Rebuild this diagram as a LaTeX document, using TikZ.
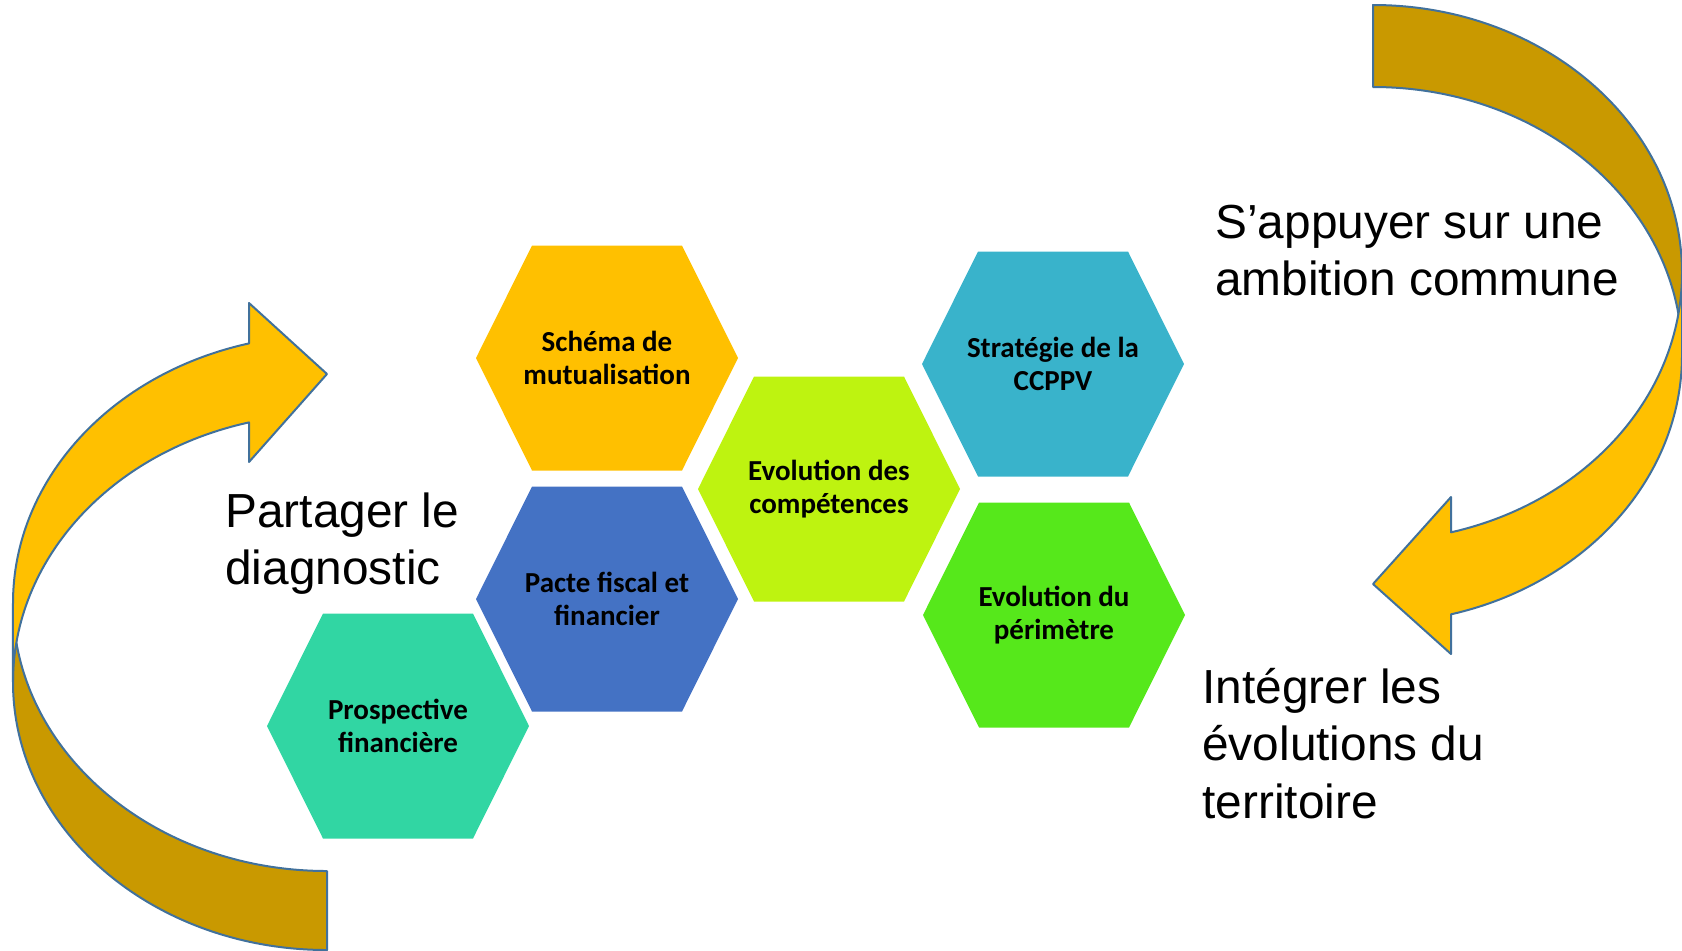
\documentclass[tikz,border=0pt]{standalone}
\usepackage{fontspec}
\setmainfont{Liberation Sans}
\newfontfamily\hexfont{Carlito}

\definecolor{jaune}{RGB}{255,192,0}
\definecolor{ocre}{RGB}{201,153,0}
\definecolor{contour}{RGB}{65,113,156}
\definecolor{vertlime}{RGB}{190,243,16}
\definecolor{bleu}{RGB}{68,114,196}
\definecolor{turquoise}{RGB}{49,214,163}
\definecolor{bleuciel}{RGB}{57,179,203}
\definecolor{vertvif}{RGB}{86,232,27}

\tikzset{
	hexa/.style={font=\hexfont\bfseries\fontsize{14.5}{16.4}\selectfont, align=center, inner sep=0pt},
	titre/.style={font=\fontsize{23.9}{28.75}\selectfont, align=left, anchor=base west, inner sep=0pt},
	fleche/.style={draw=contour, line width=1pt, line join=round}
}

% alveole : nom, x, y, couleur, texte
\newcommand{\alveole}[5]{
	\fill[#4] ({#2-131},#3) -- ({#2-75},{#3-112.5}) -- ({#2+75},{#3-112.5})
		-- ({#2+131},#3) -- ({#2+75},{#3+112.5}) -- ({#2-75},{#3+112.5}) -- cycle;
	\node[hexa] (#1) at (#2,#3) {#5};
}

\begin{document}
\begin{tikzpicture}[x=0.5pt, y=-0.5pt]
		
			\useasboundingbox (0,0) rectangle (1682,950);
			
			% fleche de gauche
			\filldraw[fleche, fill=ocre] (13,603) arc[start angle=180, end angle=90, x radius=314, y radius=268]
				-- (327,950) arc[start angle=90, end angle=180, x radius=314, y radius=268] -- cycle;
			\filldraw[fleche, fill=jaune] (13,603) arc[start angle=180, end angle=255.62, x radius=314, y radius=268]
				-- (249,303) -- (327,374) -- (249,462)
				-- (249,422.4) arc[start angle=255.62, end angle=180, x radius=314, y radius=268] -- cycle;
			
			% fleche de droite
			\filldraw[fleche, fill=ocre] (1373,5) arc[start angle=270, end angle=360, x radius=309, y radius=268]
				-- (1682,355) arc[start angle=360, end angle=270, x radius=309, y radius=268] -- cycle;
			\filldraw[fleche, fill=jaune] (1682,273) arc[start angle=0, end angle=75.38, x radius=309, y radius=268]
				-- (1451,497) -- (1373,584) -- (1451,654)
				-- (1451,614.3) arc[start angle=75.38, end angle=0, x radius=309, y radius=268] -- cycle;
			
			\alveole{schema}{607}{358}{jaune}{Schéma de\\mutualisation}
			\alveole{pacte}{607}{599}{bleu}{Pacte fiscal et\\financier}
			\alveole{prospective}{398}{726}{turquoise}{Prospective\\financière}
			\alveole{competences}{829}{489}{vertlime}{Evolution des\\compétences}
			\alveole{strategie}{1053}{364}{bleuciel}{Stratégie de la\\CCPPV}
			\alveole{perimetre}{1054}{615}{vertvif}{Evolution du\\périmètre}
			
			% ancre sur la ligne de base de la derniere ligne
			\node[titre] (partager) at (225,584.5) {Partager le\\diagnostic};
			\node[titre] (appuyer) at (1215,295.5) {S’appuyer sur une\\ambition commune};
			\node[titre] (integrer) at (1202,818) {Intégrer les\\évolutions du\\territoire};
			
		\end{tikzpicture}
\end{document}
